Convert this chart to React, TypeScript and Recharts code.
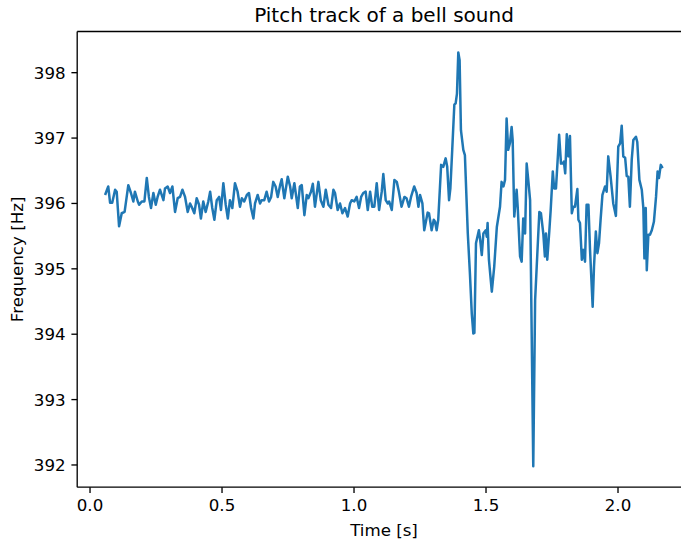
import { Line, LineChart, ReferenceLine, XAxis, YAxis } from "recharts";

// pitch track samples (time in s, frequency in Hz)
const times = [
  0.057, 0.069, 0.076, 0.084, 0.095, 0.101, 0.11, 0.12, 0.131, 0.145,
  0.155, 0.164, 0.17, 0.181, 0.186, 0.196, 0.206, 0.215, 0.223, 0.231,
  0.24, 0.249, 0.256, 0.265, 0.278, 0.284, 0.294, 0.303, 0.312, 0.322,
  0.332, 0.341, 0.35, 0.36, 0.37, 0.379, 0.385, 0.395, 0.404, 0.413,
  0.42, 0.429, 0.438, 0.448, 0.455, 0.463, 0.471, 0.48, 0.489, 0.496,
  0.505, 0.514, 0.522, 0.53, 0.539, 0.549, 0.559, 0.568, 0.575, 0.584,
  0.594, 0.602, 0.61, 0.619, 0.625, 0.635, 0.644, 0.65, 0.66, 0.669,
  0.678, 0.686, 0.694, 0.703, 0.711, 0.72, 0.726, 0.736, 0.749, 0.758,
  0.764, 0.774, 0.787, 0.795, 0.802, 0.812, 0.821, 0.827, 0.837, 0.844,
  0.852, 0.865, 0.874, 0.884, 0.893, 0.903, 0.913, 0.922, 0.928, 0.938,
  0.947, 0.956, 0.966, 0.976, 0.985, 0.991, 1.001, 1.01, 1.019, 1.027,
  1.035, 1.044, 1.052, 1.061, 1.069, 1.077, 1.086, 1.095, 1.105, 1.111,
  1.12, 1.128, 1.133, 1.143, 1.153, 1.162, 1.17, 1.18, 1.191, 1.199,
  1.208, 1.216, 1.228, 1.237, 1.244, 1.25, 1.259, 1.266, 1.279, 1.284,
  1.294, 1.302, 1.307, 1.313, 1.319, 1.33, 1.338, 1.347, 1.353, 1.36,
  1.365, 1.372, 1.38, 1.385, 1.39, 1.395, 1.4, 1.405, 1.414, 1.42,
  1.431, 1.439, 1.446, 1.452, 1.456, 1.462, 1.473, 1.478, 1.484, 1.49,
  1.499, 1.503, 1.506, 1.511, 1.522, 1.531, 1.541, 1.553, 1.559, 1.566,
  1.572, 1.578, 1.584, 1.591, 1.597, 1.601, 1.607, 1.616, 1.62, 1.629,
  1.635, 1.641, 1.648, 1.654, 1.66, 1.667, 1.679, 1.686, 1.692, 1.702,
  1.708, 1.717, 1.723, 1.727, 1.732, 1.74, 1.745, 1.753, 1.758, 1.765,
  1.777, 1.784, 1.791, 1.795, 1.8, 1.806, 1.812, 1.818, 1.825, 1.831,
  1.837, 1.846, 1.85, 1.856, 1.863, 1.869, 1.875, 1.881, 1.888, 1.894,
  1.904, 1.909, 1.916, 1.922, 1.928, 1.934, 1.941, 1.951, 1.957, 1.963,
  1.972, 1.982, 1.992, 2.001, 2.008, 2.014, 2.02, 2.027, 2.033, 2.039,
  2.045, 2.052, 2.058, 2.068, 2.073, 2.081, 2.09, 2.096, 2.1, 2.105,
  2.109, 2.115, 2.121, 2.128, 2.136, 2.144, 2.15, 2.155, 2.162, 2.169,
];

const freqs = [
  396.13, 396.26, 396.01, 396.01, 396.21, 396.18, 395.65, 395.85, 395.87, 396.28,
  396.16, 396.03, 396.18, 396.03, 395.98, 396.03, 396.03, 396.39, 396.1, 395.93,
  396.16, 395.98, 396.1, 396.21, 396.05, 396.23, 396.26, 396.16, 396.26, 395.87,
  396.08, 396.1, 396.21, 396.1, 395.87, 396.0, 395.95, 395.85, 396.08, 395.98,
  395.77, 396.03, 395.87, 396.03, 396.18, 395.93, 395.75, 396.05, 396.1, 395.9,
  396.31, 395.98, 395.77, 396.05, 395.93, 396.31, 396.18, 395.95, 396.08, 396.03,
  396.13, 396.16, 395.93, 395.77, 396.0, 396.13, 396.0, 396.05, 396.05, 396.18,
  396.03, 396.1, 396.33, 396.26, 396.1, 396.28, 396.37, 396.08, 396.41, 396.26,
  396.08, 396.31, 395.93, 396.26, 396.28, 395.82, 396.13, 396.08, 396.18, 396.3,
  395.95, 396.33, 396.05, 395.95, 396.21, 395.98, 395.93, 396.21, 396.16, 395.9,
  396.0, 395.85, 395.93, 395.8, 396.0, 396.05, 396.03, 396.1, 395.93, 396.1,
  396.16, 396.18, 395.9, 396.18, 395.95, 395.95, 396.31, 395.9, 396.18, 396.45,
  396.05, 396.0, 396.03, 395.9, 396.36, 396.33, 396.18, 395.95, 396.1, 396.08,
  395.95, 396.1, 396.26, 396.16, 395.95, 396.13, 396.0, 395.59, 395.86, 395.85,
  395.59, 395.75, 395.72, 395.59, 395.75, 396.59, 396.56, 396.69, 396.56, 396.05,
  396.23, 396.82, 397.51, 397.53, 397.68, 398.31, 398.19, 397.12, 396.82, 396.74,
  395.54, 394.93, 394.32, 394.01, 394.02, 395.39, 395.59, 395.44, 395.21, 395.54,
  395.59, 395.49, 395.7, 395.14, 394.65, 395.03, 395.64, 395.95, 396.33, 396.26,
  396.36, 397.3, 396.82, 396.93, 397.17, 396.97, 395.8, 396.21, 395.95, 395.19,
  395.11, 395.77, 395.54, 396.61, 396.36, 396.05, 391.98, 394.52, 395.03, 395.87,
  395.85, 395.54, 395.19, 395.54, 395.14, 395.59, 395.9, 396.49, 396.23, 396.23,
  397.05, 396.61, 396.61, 396.64, 396.46, 397.06, 396.72, 397.03, 395.85, 395.95,
  395.95, 396.22, 395.75, 395.7, 395.14, 395.29, 395.11, 395.98, 395.98, 395.29,
  394.42, 395.03, 395.57, 395.24, 395.39, 395.75, 396.13, 396.26, 396.18, 396.72,
  396.41, 396.0, 395.81, 396.87, 396.92, 397.19, 396.72, 396.7, 396.42, 396.41,
  395.95, 396.67, 396.97, 397.02, 396.94, 396.36, 396.21, 395.93, 395.16, 395.93,
  394.98, 395.52, 395.52, 395.59, 395.72, 396.1, 396.49, 396.39, 396.59, 396.54,
];

const xTicks = [0, 0.5, 1, 1.5, 2];
const yTicks = [392, 393, 394, 395, 396, 397, 398];
const xDomain: [number, number] = [-0.0486, 2.2746];
const yDomain: [number, number] = [391.66, 398.63];

const data = times.map((t, i) => ({ t, f: freqs[i] }));

const FONT = "'DejaVu Sans', sans-serif";
const tickStyle = { fontSize: 16.67, fill: "#000", fontFamily: FONT };

export default function App() {
  return (
    <div
      style={{
        position: "absolute",
        left: 0,
        top: 0,
        width: 681,
        height: 541,
        overflow: "hidden",
        background: "#fff",
      }}
    >
      <LineChart
        width={700}
        height={541}
        data={data}
        margin={{ top: 31.5, right: 9.5, left: 0, bottom: 0 }}
      >
        <XAxis
          type="number"
          dataKey="t"
          domain={xDomain}
          ticks={xTicks}
          allowDataOverflow
          tickFormatter={(v: number) => v.toFixed(1)}
          height={53.8}
          tick={tickStyle}
          tickSize={5.8}
          tickMargin={5.8}
          stroke="#000"
          strokeWidth={1.33}
        />
        <YAxis
          type="number"
          domain={yDomain}
          ticks={yTicks}
          allowDataOverflow
          width={77.2}
          tick={tickStyle}
          tickSize={5.8}
          tickMargin={5.8}
          stroke="#000"
          strokeWidth={1.33}
        />
        <ReferenceLine y={yDomain[1]} stroke="#000" strokeWidth={1.33} />
        <Line
          type="linear"
          dataKey="f"
          stroke="#1f77b4"
          strokeWidth={2.5}
          strokeLinejoin="round"
          dot={false}
          isAnimationActive={false}
        />
      </LineChart>
      <svg
        width={681}
        height={541}
        style={{ position: "absolute", left: 0, top: 0, pointerEvents: "none" }}
      >
        <text x={384} y={21.5} textAnchor="middle" fontSize={20} fontFamily={FONT} fill="#000">
          Pitch track of a bell sound
        </text>
        <text x={384} y={535.5} textAnchor="middle" fontSize={16.67} fontFamily={FONT} fill="#000">
          Time [s]
        </text>
        <text
          x={0}
          y={0}
          transform="translate(23,259.4) rotate(-90)"
          textAnchor="middle"
          fontSize={16.67}
          fontFamily={FONT}
          fill="#000"
        >
          Frequency [Hz]
        </text>
      </svg>
    </div>
  );
}
